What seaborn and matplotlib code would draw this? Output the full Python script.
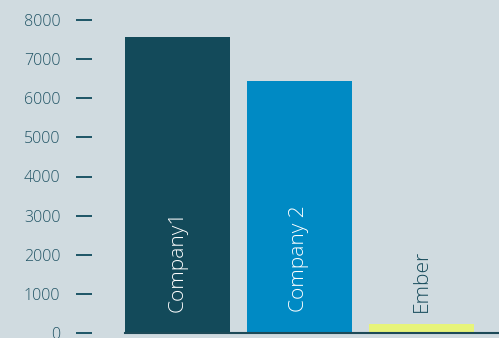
import matplotlib
matplotlib.use("Agg")
import matplotlib.pyplot as plt
import seaborn as sns
import pandas as pd

categories = ["Company1", "Company 2", "Ember"]
values = [7570, 6440, 230]
yticks = [0, 1000, 2000, 3000, 4000, 5000, 6000, 7000, 8000]
bar_colors = ["#134a5a", "#008ac4", "#e7f47a"]
label_colors = ["white", "white", "#164b5b"]

sns.set_theme(style="white")
plt.rcParams['font.family'] = ['Open Sans', 'DejaVu Sans']

bg = "#d0dbe0"
W, H = 499, 338
fig = plt.figure(figsize=(W / 100, H / 100), dpi=100, facecolor=bg)
ax = fig.add_axes([125 / W, 5 / H, (W - 125) / W, 313 / H])
ax.set_facecolor(bg)

df = pd.DataFrame({"cat": categories, "val": values})
sns.barplot(data=df, x="cat", y="val", hue="cat", palette=bar_colors,
            width=0.86, legend=False, ax=ax, saturation=1, linewidth=0)

ax.set_xlim(-0.43, 2.635)
ax.set_ylim(0, 8000)
ax.set_yticks(yticks)
ax.set_yticklabels([str(t) for t in yticks])
ax.set_xticks([])
ax.set_xlabel("")
ax.set_ylabel("")

for s in ["top", "right"]:
    ax.spines[s].set_visible(False)
ax.spines["left"].set_position(("outward", 24))
ax.spines["left"].set_visible(False)
ax.spines["bottom"].set_color("#1d4a58")
ax.spines["bottom"].set_linewidth(1.5)

ax.tick_params(axis="y", direction="out", length=11.5, width=1.4,
               color="#1d5566", pad=11, labelsize=11.5, labelcolor="#225566", left=True)
for lab in ax.get_yticklabels():
    lab.set_fontweight("light")

for i, (c, col) in enumerate(zip(categories, label_colors)):
    ax.text(i, 540, c, rotation=90, ha="center", va="bottom",
            color=col, fontsize=15, fontweight="light")

fig.savefig("out.png", dpi=100, facecolor=bg)
